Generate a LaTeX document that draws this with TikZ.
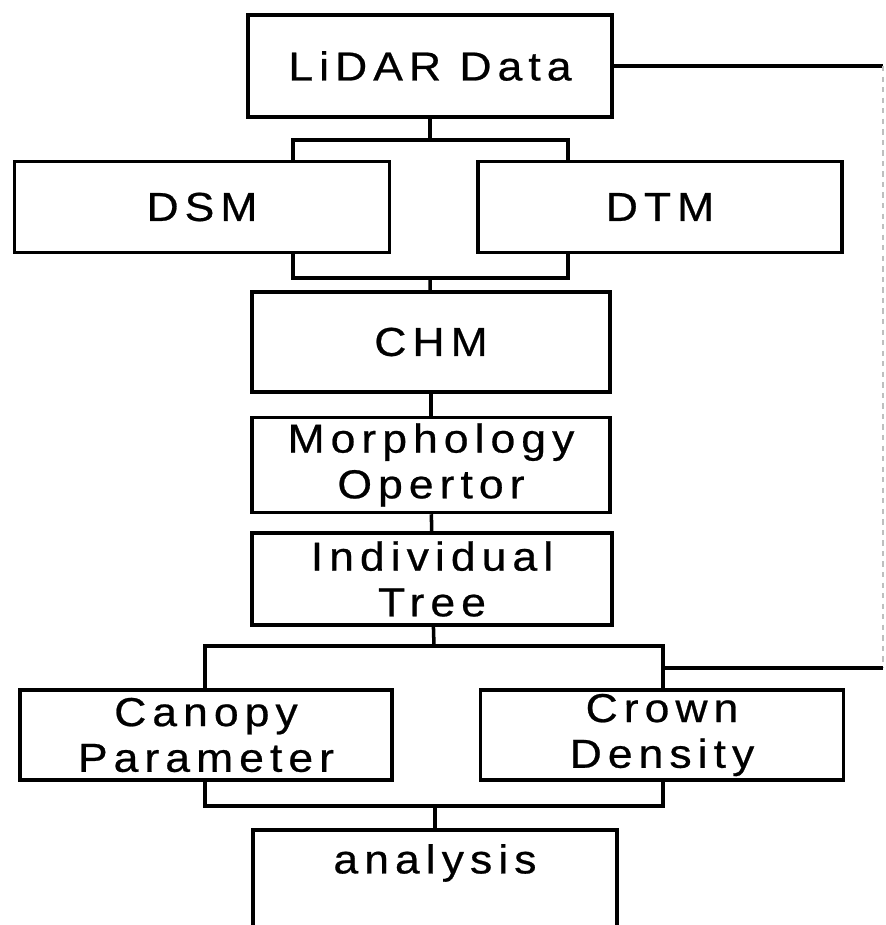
\documentclass[tikz,border=0pt]{standalone}
\usepackage{fontspec}
\setmainfont{Liberation Sans}[LetterSpace=15,FakeStretch=1.1,FakeBold=0.6]
\usepackage{tikz}
\usetikzlibrary{positioning}

\begin{document}
\begin{tikzpicture}[x=0.02cm,y=-0.02cm,line width=2pt,
	box/.style={draw,rectangle,inner sep=0pt,align=center,font=\fontsize{23}{26}\selectfont},
	faint/.style={draw=black!25,line width=1pt,dashed}]
			\useasboundingbox (0,0) rectangle (885,925);
			\node[box,minimum width=7.28cm,minimum height=2.04cm] (lidar) at (430,66) {LiDAR Data};
			\node[box,minimum width=7.5cm,minimum height=1.82cm] (dsm) at (202,207) {DSM};
			\node[box,minimum width=7.28cm,minimum height=1.82cm] (dtm) at (660,207) {DTM};
			\node[box,minimum width=7.16cm,minimum height=2cm] (chm) at (431,342) {CHM};
			\node[box,minimum width=7.16cm,minimum height=1.9cm] (morph) at (431,465) {Morphology\\Opertor};
			\node[box,minimum width=7.2cm,minimum height=1.84cm] (indiv) at (432,579) {Individual\\Tree};
			\node[box,minimum width=7.44cm,minimum height=1.8cm] (canopy) at (206,735) {Canopy\\Parameter};
			\node[box,minimum width=7.26cm,minimum height=1.8cm] (crown) at (662,735) {Crown\\Density};
			\node[box,minimum width=7.28cm,minimum height=2cm,text depth=0.85cm] (analysis) at (435,880) {analysis};

			\coordinate (splitA) at (430,140);
			\coordinate (splitAl) at (293,140);
			\coordinate (splitAr) at (568,140);
			\coordinate (mergeA) at (430,278);
			\coordinate (mergeAl) at (293,278);
			\coordinate (mergeAr) at (568,278);
			\coordinate (splitB) at (434,646);
			\coordinate (splitBl) at (205,646);
			\coordinate (splitBr) at (663,646);
			\coordinate (mergeB) at (435,806);
			\coordinate (mergeBl) at (205,806);
			\coordinate (mergeBr) at (663,806);
			\coordinate (backTop) at (883,66);
			\coordinate (backBot) at (883,668);

			\draw [-] (lidar) to (splitA);
			\draw [-] (splitAl |- dsm.north) to (splitAl) to (splitAr) to (splitAr |- dtm.north);
			\draw [-] (mergeAl |- dsm.south) to (mergeAl) to (mergeAr) to (mergeAr |- dtm.south);
			\draw [-] (mergeA) to (chm);
			\draw [-] (chm) to (morph);
			\draw [-] (morph) to (indiv);
			\draw [-] (indiv) to (splitB);
			\draw [-] (splitBl |- canopy.north) to (splitBl) to (splitBr) to (splitBr |- crown.north);
			\draw [-] (mergeBl |- canopy.south) to (mergeBl) to (mergeBr) to (mergeBr |- crown.south);
			\draw [-] (mergeB) to (analysis);
			\draw [-] (lidar.east |- backTop) to (backTop);
			\draw [faint] (backTop) to (backBot);
			\draw [-] (backBot) to (backBot -| splitBr);
		\end{tikzpicture}
\end{document}
